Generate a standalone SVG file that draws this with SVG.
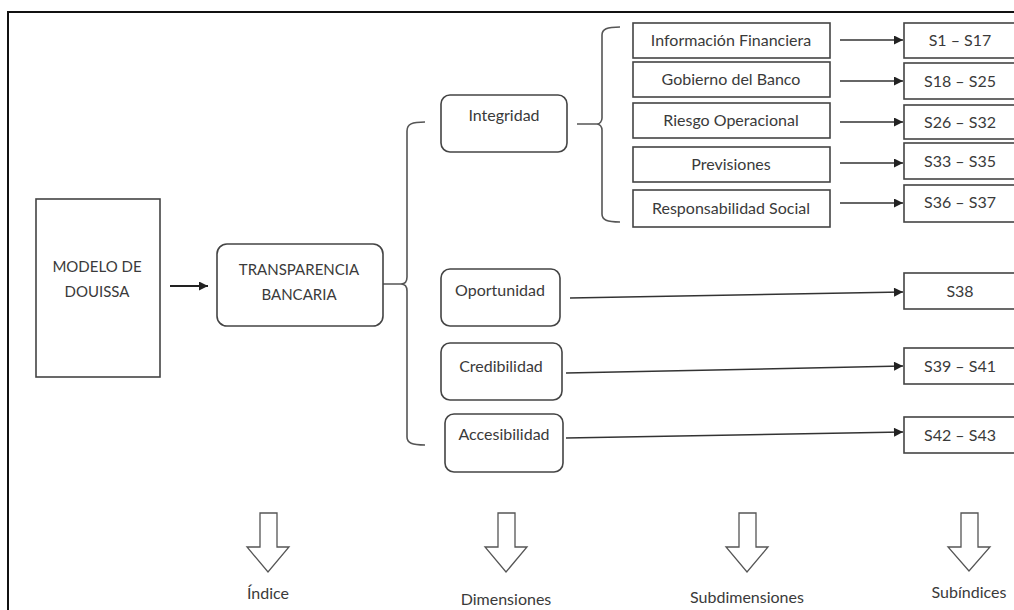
<svg xmlns="http://www.w3.org/2000/svg" width="1014" height="610" viewBox="0 0 1014 610">
<style>
  .t { font-family: Lato, "Liberation Sans", sans-serif; font-size: 16px; fill: #3a3a3a; text-anchor: middle; }
  .u { font-size: 15px; }
  .box { fill: #fff; stroke: #444; stroke-width: 1.6; }
  .ln { fill: none; stroke: #333; stroke-width: 1.5; }
  .br { fill: none; stroke: #555; stroke-width: 1.6; }
  .hol { fill: #fff; stroke: #555; stroke-width: 1.3; stroke-linejoin: miter; }
</style>
<defs>
  <marker id="ah" viewBox="0 0 10 10" refX="10" refY="5" markerWidth="10" markerHeight="9" markerUnits="userSpaceOnUse" orient="auto">
    <path d="M0,0 L10,5 L0,10 z" fill="#222"/>
  </marker>
  <marker id="ah2" viewBox="0 0 10 10" refX="10" refY="5" markerWidth="10" markerHeight="9" markerUnits="userSpaceOnUse" orient="auto">
    <path d="M0,0 L10,5 L0,10 z" fill="#222"/>
  </marker>
</defs>
<rect x="0" y="0" width="1014" height="610" fill="#fff"/>
<rect x="8" y="12" width="1030" height="620" fill="none" stroke="#111" stroke-width="2"/>

<g id="connectors">
  <line x1="170" y1="286" x2="208" y2="286" stroke="#222" stroke-width="2.2" marker-end="url(#ah2)"/>
  <path class="br" d="M383,284 L401,284 M425,122 C412,122 407,124 407,131 L407,277 C407,281 405,284 401,284 C405,284 407,287 407,291 L407,437 C407,443 412,445 425,445"/>
  <path class="br" d="M577,124 L597,124 M620,27 C607,27 602,29 602,35 L602,118 C602,121 600,124 597,124 C600,124 602,127 602,130 L602,214 C602,220 607,222 620,222"/>
  <line class="ln" x1="840" y1="40" x2="903" y2="40" marker-end="url(#ah)"/>
  <line class="ln" x1="840" y1="81" x2="903" y2="81" marker-end="url(#ah)"/>
  <line class="ln" x1="840" y1="122" x2="903" y2="122" marker-end="url(#ah)"/>
  <line class="ln" x1="840" y1="163" x2="903" y2="163" marker-end="url(#ah)"/>
  <line class="ln" x1="840" y1="203" x2="903" y2="203" marker-end="url(#ah)"/>
  <line class="ln" x1="570" y1="298" x2="903" y2="292" marker-end="url(#ah)"/>
  <line class="ln" x1="566" y1="373" x2="903" y2="366" marker-end="url(#ah)"/>
  <line class="ln" x1="566" y1="438" x2="903" y2="432" marker-end="url(#ah)"/>
</g>

<g id="modelo">
  <rect class="box" x="36" y="199" width="124" height="178"/>
  <text class="t u" x="97" y="272">MODELO DE</text>
  <text class="t u" x="97" y="297">DOUISSA</text>
</g>
<g id="transparencia">
  <rect class="box" x="217" y="244" width="166" height="82" rx="10"/>
  <text class="t u" x="299" y="275">TRANSPARENCIA</text>
  <text class="t u" x="299" y="300">BANCARIA</text>
</g>

<g id="integridad">
  <rect class="box" x="441" y="95" width="126" height="57" rx="9"/>
  <text class="t" x="504" y="121">Integridad</text>
</g>
<g id="oportunidad">
  <rect class="box" x="441" y="269" width="119" height="57" rx="9"/>
  <text class="t" x="500" y="296">Oportunidad</text>
</g>
<g id="credibilidad">
  <rect class="box" x="441" y="343" width="121" height="57" rx="9"/>
  <text class="t" x="501" y="372">Credibilidad</text>
</g>
<g id="accesibilidad">
  <rect class="box" x="445" y="414" width="118" height="58" rx="9"/>
  <text class="t" x="504" y="440">Accesibilidad</text>
</g>

<g id="sub-informacion">
  <rect class="box" x="633" y="23" width="197" height="35"/>
  <text class="t" x="731" y="46">Información Financiera</text>
</g>
<g id="sub-gobierno">
  <rect class="box" x="633" y="62" width="197" height="35"/>
  <text class="t" x="731" y="85">Gobierno del Banco</text>
</g>
<g id="sub-riesgo">
  <rect class="box" x="633" y="103" width="197" height="35"/>
  <text class="t" x="731" y="126">Riesgo Operacional</text>
</g>
<g id="sub-previsiones">
  <rect class="box" x="633" y="147" width="197" height="35"/>
  <text class="t" x="731" y="170">Previsiones</text>
</g>
<g id="sub-responsabilidad">
  <rect class="box" x="633" y="190" width="197" height="37"/>
  <text class="t" x="731" y="214">Responsabilidad Social</text>
</g>

<g id="s1-s17"><rect class="box" x="904" y="23" width="120" height="35"/><text class="t" x="960" y="46">S1 – S17</text></g>
<g id="s18-s25"><rect class="box" x="904" y="63" width="120" height="36"/><text class="t" x="960" y="87">S18 – S25</text></g>
<g id="s26-s32"><rect class="box" x="904" y="105" width="120" height="34"/><text class="t" x="960" y="128">S26 – S32</text></g>
<g id="s33-s35"><rect class="box" x="904" y="143" width="120" height="36"/><text class="t" x="960" y="167">S33 – S35</text></g>
<g id="s36-s37"><rect class="box" x="904" y="185" width="120" height="37"/><text class="t" x="960" y="208">S36 – S37</text></g>
<g id="s38"><rect class="box" x="904" y="273" width="120" height="36"/><text class="t" x="960" y="297">S38</text></g>
<g id="s39-s41"><rect class="box" x="904" y="348" width="120" height="36"/><text class="t" x="960" y="372">S39 – S41</text></g>
<g id="s42-s43"><rect class="box" x="904" y="417" width="120" height="36"/><text class="t" x="960" y="441">S42 – S43</text></g>

<g id="legend-indice">
  <polygon class="hol" points="260,513 277,513 277,547 289,547 268,572 247,547 260,547"/>
  <text class="t" x="268" y="599">Índice</text>
</g>
<g id="legend-dimensiones">
  <polygon class="hol" points="498,513 515,513 515,547 527,547 506,572 485,547 498,547"/>
  <text class="t" x="506" y="605">Dimensiones</text>
</g>
<g id="legend-subdimensiones">
  <polygon class="hol" points="739,513 756,513 756,547 768,547 747,572 726,547 739,547"/>
  <text class="t" x="747" y="603">Subdimensiones</text>
</g>
<g id="legend-subindices">
  <polygon class="hol" points="961,513 978,513 978,547 990,547 969,571 948,547 961,547"/>
  <text class="t" x="969" y="598">Subíndices</text>
</g>
</svg>
